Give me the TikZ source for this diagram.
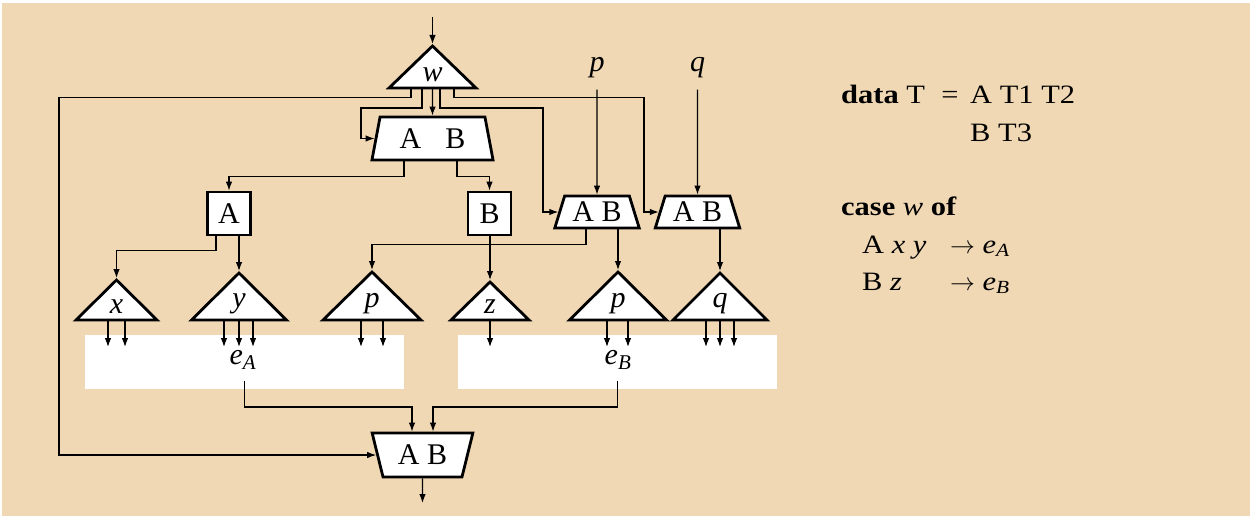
\documentclass[tikz,border=0pt]{standalone}
\usepackage{fontspec}
\setmainfont{Liberation Serif}
\newfontfamily\codefont{Liberation Serif}[FakeStretch=1.15]
\usetikzlibrary{shapes.geometric,arrows.meta,calc}
\definecolor{bg}{HTML}{F0D8B4}
\begin{document}
\begin{tikzpicture}[x=1pt,y=-1pt,
  every node/.style={font=\fontsize{30}{36}\selectfont},
  outline/.style={draw=black,line width=2.8pt,fill=white,line join=miter},
  boxshape/.style={rectangle,inner sep=0pt,outer sep=0pt},
  sqbox/.style={rectangle,outline,inner sep=0pt,minimum width=43pt,minimum height=43pt},
  trap/.style={trapezium,trapezium stretches=true,outline,inner sep=0pt},
  conn/.style={draw=black,line width=1.1pt,-{Latex[length=9pt,width=6.5pt]}},
  toapex/.style={shorten >=2pt},
  lbl/.style={anchor=base,inner sep=0pt},
  trilbl/.style={anchor=south,inner sep=0pt},
  code/.style={font=\codefont\fontsize{26.5}{30}\selectfont,anchor=base west,inner sep=0pt},
]
\useasboundingbox (0,0) rectangle (1252,516);
\fill[white] (0,0) rectangle (1252,516);
\fill[bg] (2,3) rectangle (1250,516);

% ---------- shapes ----------
% w triangle
\node[boxshape,minimum width=87pt,minimum height=42pt] (w) at (432.5,67) {};
\draw[outline] (w.south west) -- (w.north) -- (w.south east) -- cycle;
\node[trilbl] (wl) at ([yshift=6pt]w.south) {\textit{w}};

% top switch
\node[trap,minimum width=122pt,minimum height=43pt,trapezium angle=75.7] (ab) at (432.5,138.5) {A\hspace{24pt}B};

% constructor boxes
\node[sqbox] (A) at (229,213.5) {A};
\node[sqbox] (B) at (489.5,213.5) {B};

% p, q inputs
\node[lbl] (pl) at (597,72) {\textit{p}};
\node[lbl] (ql) at (697.5,72) {\textit{q}};

% p, q switches
\node[trap,minimum width=85pt,minimum height=32pt,trapezium angle=69.4] (abp) at (597,212) {A B};
\node[trap,minimum width=85pt,minimum height=32pt,trapezium angle=69.4] (abq) at (697.5,212) {A B};

% triangles
\node[boxshape,minimum width=81pt,minimum height=40pt] (xt) at (116.5,300) {};
\draw[outline] (xt.south west) -- (xt.north) -- (xt.south east) -- cycle;
\node[trilbl] (xl) at ([yshift=6pt]xt.south) {\textit{x}};

\node[boxshape,minimum width=95pt,minimum height=47pt] (yt) at (239,296.5) {};
\draw[outline] (yt.south west) -- (yt.north) -- (yt.south east) -- cycle;
\node[trilbl] (yl) at ([yshift=6pt]yt.south) {\textit{y}};

\node[boxshape,minimum width=98pt,minimum height=48pt] (pL) at (372,296) {};
\draw[outline] (pL.south west) -- (pL.north) -- (pL.south east) -- cycle;
\node[trilbl] (pLl) at ([yshift=6pt]pL.south) {\textit{p}};

\node[boxshape,minimum width=78pt,minimum height=38pt] (zt) at (490,301) {};
\draw[outline] (zt.south west) -- (zt.north) -- (zt.south east) -- cycle;
\node[trilbl] (zl) at ([yshift=6pt]zt.south) {\textit{z}};

\node[boxshape,minimum width=97pt,minimum height=48pt] (pR) at (618,296) {};
\draw[outline] (pR.south west) -- (pR.north) -- (pR.south east) -- cycle;
\node[trilbl] (pRl) at ([yshift=6pt]pR.south) {\textit{p}};

\node[boxshape,minimum width=94pt,minimum height=47pt] (qt) at (720,296.5) {};
\draw[outline] (qt.south west) -- (qt.north) -- (qt.south east) -- cycle;
\node[trilbl] (qtl) at ([yshift=6pt]qt.south) {\textit{q}};

% result boxes
\node[boxshape,fill=white,minimum width=319pt,minimum height=54pt] (eA) at (244.5,362) {};
\node[boxshape,fill=white,minimum width=319pt,minimum height=54pt] (eB) at (617.5,362) {};
\node[lbl] (eAl) at (243,364) {\textit{e}\textsubscript{\textit{A}}};
\node[lbl] (eBl) at (618,364) {\textit{e}\textsubscript{\textit{B}}};

% final switch
\node[trap,shape border rotate=180,minimum width=101pt,minimum height=44pt,trapezium angle=71.2] (fin) at (422.5,455) {A B};

% ---------- connectors ----------
\coordinate (win) at (432.5,17);
\coordinate (fout) at (422.5,503);
\draw[conn,toapex] (win) -- (w.north);
\draw[conn] ([xshift=-21.5pt]w.south) |- (59,97.5) |- (fin.west);
\draw[conn] ([xshift=-10.5pt]w.south) |- (361,108) |- (ab.west);
\draw[conn] (w.south) -- (ab.north);
\draw[conn] ([xshift=7.5pt]w.south) |- (543,108) |- (abp.west);
\draw[conn] ([xshift=21.5pt]w.south) |- (644,97.5) |- (abq.west);

\draw[conn] ([yshift=-11pt]pl.south) -- (abp.north);
\draw[conn] ([yshift=-11pt]ql.south) -- (abq.north);

\draw[conn] ([xshift=-28.5pt]ab.south) -- ++(0,15) -| (A.north);
\draw[conn] ([xshift=24.5pt]ab.south) -- ++(0,15) -| (B.north);

\draw[conn,toapex] ([xshift=-13pt]A.south) -- ++(0,14) -| (xt.north);
\draw[conn,toapex] (A.south -| yt.north) -- (yt.north);
\draw[conn,toapex] (B.south -| zt.north) -- (zt.north);
\draw[conn,toapex] ([xshift=-11pt]abp.south) -- ++(0,15) -| (pL.north);
\draw[conn,toapex] (abp.south -| pR.north) -- (pR.north);
\draw[conn,toapex] (abq.south -| qt.north) -- (qt.north);

\foreach \n/\dx in {xt/-8.5, xt/8.5, yt/-15, yt/0, yt/14, pL/-11, pL/11, zt/0, pR/-11, pR/10, qt/-14, qt/0, qt/14}
  \draw[conn] ([xshift=\dx]\n.south) -- ++(0,27);

\draw[conn] ([yshift=8pt]eA.south) -- ++(0,26) -| ([xshift=-10.5pt]fin.north);
\draw[conn] ([yshift=8pt]eB.south) -- ++(0,26) -| ([xshift=10.5pt]fin.north);
\draw[conn] (fin.south) -- (fout);

% ---------- program text ----------
\node[code] (d1) at (841,103) {\textbf{data} T};
\node[code,anchor=base] (d1e) at (950,103) {=};
\node[code] (d2) at (970,103) {A T1 T2};
\node[code] (d3) at (970,142) {B T3};
\node[code] (c1) at (841,215) {\textbf{case} \textit{w} \textbf{of}};
\node[code] (c2) at (862,253) {A \textit{x} \textit{y}};
\node[code] (c3) at (950,253) {$\rightarrow$ \textit{e}\textsubscript{\textit{A}}};
\node[code] (c4) at (862,290) {B \textit{z}};
\node[code] (c5) at (950,290) {$\rightarrow$ \textit{e}\textsubscript{\textit{B}}};
\end{tikzpicture}
\end{document}
